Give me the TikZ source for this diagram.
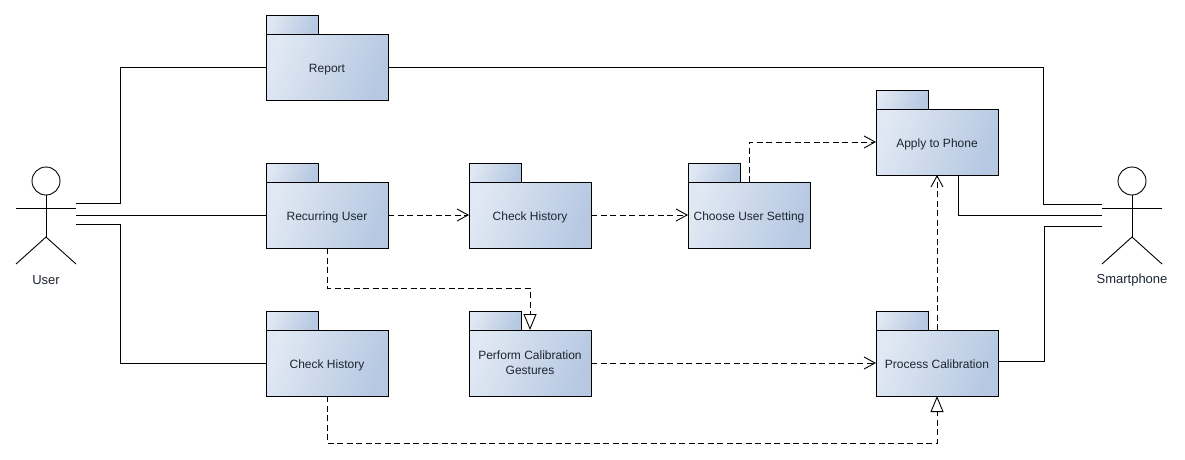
\documentclass[tikz,border=0pt]{standalone}
\usepackage{fontspec}
\setmainfont{Liberation Sans}
\usetikzlibrary{arrows.meta}
\definecolor{pkglight}{HTML}{E0E8F3}
\definecolor{pkgdark}{HTML}{B6C8E2}
\definecolor{labelgray}{HTML}{1C2530}
\tikzset{
    packagenode/.style={
        rectangle,
        draw=black,
        left color=pkglight, % light on the left
        right color=pkgdark,
        shading angle=70,
        line width=0.9pt,
        minimum width=122pt,
        minimum height=66pt,
        inner sep=0,
        outer sep=0,
        text=labelgray,
        text height=10pt,
        text depth=0pt,
        font=\fontsize{12pt}{15pt}\selectfont
    },
    tabnode/.style={
        rectangle,
        draw=black,
        left color=pkglight,
        right color=pkgdark,
        shading angle=70,
        line width=0.9pt,
        minimum width=52pt,
        minimum height=19pt,
        inner sep=0,
        outer sep=0,
        anchor=south west
    },
    actornode/.style={
        rectangle,
        minimum width=60pt,
        minimum height=98pt,
        inner sep=0,
        outer sep=0
    },
    actorlabel/.style={
        inner sep=0,
        text=labelgray,
        font=\fontsize{13pt}{15pt}\selectfont
    },
    assocline/.style={line width=0.9pt},
    dependline/.style={line width=0.9pt, dash pattern=on 6pt off 3.5pt, -{Straight Barb[length=11pt,width=12pt]}},
    generalline/.style={line width=0.9pt, dash pattern=on 6pt off 3.5pt, -{Triangle[fill=white,length=16pt,width=13pt]}}
}

\begin{document}
\begin{tikzpicture}[x=1pt,y=-1pt]
    \useasboundingbox (0,0) rectangle (1185,459);

    % packages
    \node[packagenode] (report) at (327,67) {Report};
    \node[packagenode] (recurring) at (327,215) {Recurring User};
    \node[packagenode] (checkLeft) at (327,363) {Check History};
    \node[packagenode] (checkMid) at (530,215) {Check History};
    \node[packagenode,align=center,text height=,text depth=] (perform) at (530,363) {Perform Calibration\\Gestures};
    \node[packagenode] (choose) at (749,215) {Choose User Setting};
    \node[packagenode] (apply) at (937,142) {Apply to Phone};
    \node[packagenode] (process) at (937,363) {Process Calibration};

    \foreach \pkg in {report,recurring,checkLeft,checkMid,perform,choose,apply,process}
        \node[tabnode] (\pkg Tab) at (\pkg.north west) {};

    % actors
    \node[actornode] (user) at (46,215) {};
    \node[actornode] (phone) at (1132,215) {};
    \node[actorlabel] (userLabel) at (46,280) {User};
    \node[actorlabel] (phoneLabel) at (1132,280) {Smartphone};

    \foreach \actor in {user,phone} {
        \draw[assocline] ([shift={(0,-34)}]\actor.center) circle (14);
        \draw[assocline] ([shift={(-30,-7)}]\actor.center) -- ([shift={(30,-7)}]\actor.center);
        \draw[assocline] ([shift={(0,-20)}]\actor.center) -- ([shift={(0,22)}]\actor.center);
        \draw[assocline] ([shift={(-30,49)}]\actor.center) -- ([shift={(0,22)}]\actor.center) -- ([shift={(30,49)}]\actor.center);
    }

    % associations
    \draw[assocline] ([yshift=12pt]user.east) -- ++(44,0) |- (report.west);
    \draw[assocline] (user.east) -- (recurring.west);
    \draw[assocline] ([yshift=-9pt]user.east) -- ++(44,0) |- (checkLeft.west);
    \draw[assocline] (report.east) -- ++(655,0) |- ([yshift=11pt]phone.west);
    \draw[assocline] ([xshift=21pt]apply.south) |- (phone.west);
    \draw[assocline] ([yshift=2pt]process.east) -- ++(46,0) |- ([yshift=-11pt]phone.west);

    % dependencies
    \draw[dependline] (recurring.east) -- (checkMid.west);
    \draw[dependline] (checkMid.east) -- (choose.west);
    \draw[dependline] (choose.north) |- (apply.west);
    \draw[dependline] (perform.east) -- (process.west);
    \draw[dependline] (process.north) -- (apply.south);
    \draw[generalline] (recurring.south) -- ++(0,40) -| (perform.north);
    \draw[generalline] (checkLeft.south) -- ++(0,47) -| (process.south);
\end{tikzpicture}
\end{document}
